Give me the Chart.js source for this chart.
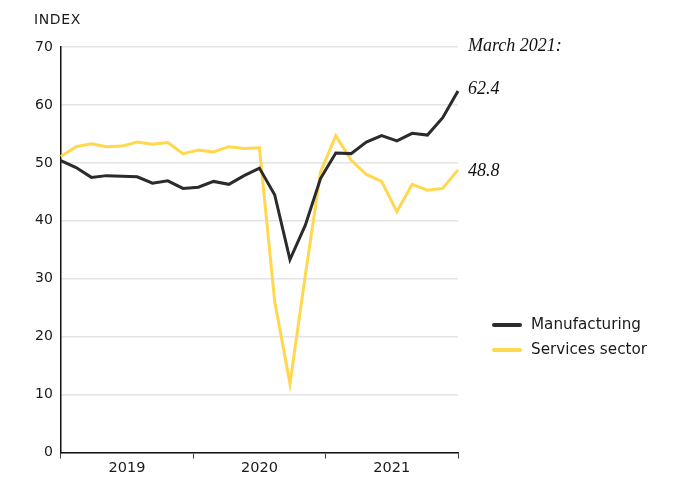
<!DOCTYPE html>
<html>
<head>
    <title>Eurozone PMI</title>
    <script src="https://cdn.jsdelivr.net/npm/chart.js"></script>
    <style>
        html, body {
            margin: 0;
            padding: 0;
            background: #fff;
        }
        #wrap {
            width: 684px;
            height: 479px;
        }
    </style>
</head>
<body>
    <div id="wrap"><canvas id="pmiChart"></canvas></div>

    <script>
        // monthly, Jan 2019 .. Mar 2021
        const months = [
            "Jan 2019", "Feb 2019", "Mar 2019", "Apr 2019", "May 2019", "Jun 2019",
            "Jul 2019", "Aug 2019", "Sep 2019", "Oct 2019", "Nov 2019", "Dec 2019",
            "Jan 2020", "Feb 2020", "Mar 2020", "Apr 2020", "May 2020", "Jun 2020",
            "Jul 2020", "Aug 2020", "Sep 2020", "Oct 2020", "Nov 2020", "Dec 2020",
            "Jan 2021", "Feb 2021", "Mar 2021"
        ];
        const manufacturing = [
            50.4, 49.2, 47.5, 47.8, 47.7, 47.6, 46.5, 46.9, 45.6, 45.8, 46.8, 46.3,
            47.8, 49.1, 44.5, 33.3, 39.2, 47.3, 51.7, 51.6, 53.6, 54.7, 53.8, 55.1,
            54.8, 57.8, 62.4
        ];
        const services = [
            51.1, 52.8, 53.3, 52.8, 52.9, 53.6, 53.2, 53.5, 51.6, 52.2, 51.9, 52.8,
            52.5, 52.6, 26.1, 11.9, 30.5, 48.4, 54.7, 50.5, 48.0, 46.8, 41.6, 46.3,
            45.3, 45.6, 48.8
        ];
        const yearLabels = ["2019", "2020", "2021"];
        const yTicks = [0, 10, 20, 30, 40, 50, 60, 70];

        const sans = "'DejaVu Sans', sans-serif";
        const serif = "'Liberation Serif', serif";

        // title, end-value notes and legend drawn beside the plot
        const extras = {
            id: "extras",
            afterDraw(chart) {
                const ctx = chart.ctx;
                const area = chart.chartArea;
                const y = chart.scales.y;
                ctx.save();

                ctx.fillStyle = "#1a1a1a";
                ctx.font = "14px " + sans;
                ctx.textAlign = "left";
                ctx.textBaseline = "middle";
                ctx.letterSpacing = "0.6px";
                ctx.fillText("INDEX", 34, 20);
                ctx.letterSpacing = "0px";

                const noteX = area.right + 10;
                ctx.font = "italic 18px " + serif;
                ctx.fillStyle = "#111";
                ctx.fillText("March 2021:", noteX, y.getPixelForValue(70) - 1);
                ctx.fillText(manufacturing[manufacturing.length - 1].toFixed(1), noteX, y.getPixelForValue(62.4) - 2);
                ctx.fillText(services[services.length - 1].toFixed(1), noteX, y.getPixelForValue(48.8) + 1);

                let ly = 325;
                chart.data.datasets.forEach((ds) => {
                    ctx.strokeStyle = ds.borderColor;
                    ctx.lineWidth = 4;
                    ctx.lineCap = "round";
                    ctx.beginPath();
                    ctx.moveTo(494, ly);
                    ctx.lineTo(520, ly);
                    ctx.stroke();
                    ctx.fillStyle = "#1a1a1a";
                    ctx.font = "15.2px " + sans;
                    ctx.fillText(ds.label, 531, ly);
                    ly += 25;
                });
                ctx.restore();
            }
        };

        new Chart(document.getElementById("pmiChart"), {
            type: "line",
            data: {
                labels: months,
                datasets: [
                    {
                        label: "Manufacturing",
                        data: manufacturing,
                        borderColor: "#2b2b2b",
                        borderWidth: 3,
                        pointRadius: 0,
                        tension: 0,
                        fill: false
                    },
                    {
                        label: "Services sector",
                        data: services,
                        borderColor: "#ffd84d",
                        borderWidth: 3,
                        pointRadius: 0,
                        tension: 0,
                        fill: false
                    }
                ]
            },
            options: {
                responsive: true,
                maintainAspectRatio: false,
                animation: false,
                layout: {
                    padding: { left: 27, right: 226, top: 47, bottom: 1 }
                },
                plugins: {
                    legend: { display: false },
                    tooltip: { enabled: false }
                },
                scales: {
                    x: {
                        type: "category",
                        display: false,
                        offset: false
                    },
                    years: {
                        type: "category",
                        position: "bottom",
                        labels: yearLabels,
                        offset: true,
                        grid: {
                            offset: true,
                            drawOnChartArea: false,
                            tickLength: 6,
                            color: "#444",
                            lineWidth: 1
                        },
                        border: { color: "#111", width: 1.5 },
                        ticks: {
                            color: "#1a1a1a",
                            font: { family: sans, size: 14.5 },
                            padding: 1,
                            maxRotation: 0
                        }
                    },
                    y: {
                        min: 0,
                        max: 70,
                        afterBuildTicks(scale) {
                            scale.ticks = yTicks.map((v) => ({ value: v }));
                        },
                        grid: {
                            color: "#e4e4e4",
                            lineWidth: 1.5,
                            drawTicks: false
                        },
                        border: { color: "#111", width: 1.5 },
                        ticks: {
                            color: "#1a1a1a",
                            font: { family: sans, size: 14 },
                            padding: 8
                        }
                    }
                }
            },
            plugins: [extras]
        });
    </script>
</body>
</html>
